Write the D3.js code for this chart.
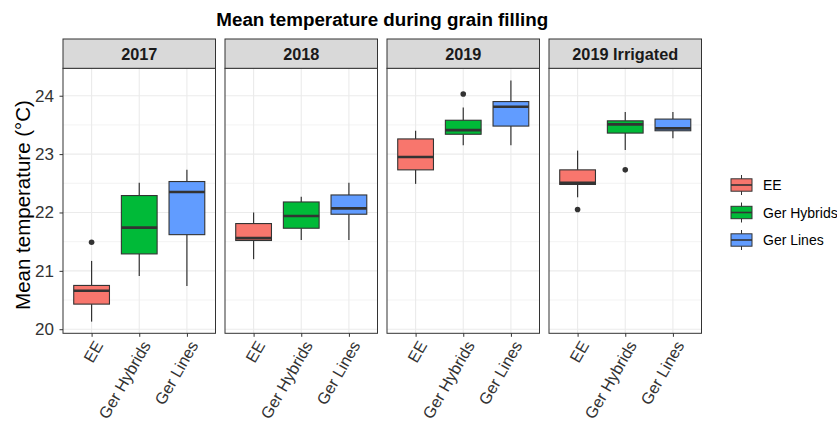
<!DOCTYPE html>
<html>
<head>
<meta charset="utf-8">
<script src="https://cdn.jsdelivr.net/npm/d3@7"></script>
<style>
  html, body { margin: 0; padding: 0; background: #fff; }
  svg { display: block; font-family: "Liberation Sans", Arial, sans-serif; }
</style>
</head>
<body>
<svg id="chart" width="837" height="424"></svg>
<script>
// Facets and groups
const years = ["2017", "2018", "2019", "2019 Irrigated"];
const groups = ["EE", "Ger Hybrids", "Ger Lines"];
const groupColors = ["#F8766D", "#00BA38", "#619CFF"];

// Box statistics per facet (rows) and group (columns), °C
const whiskerLow  = [[20.13, 20.91, 20.74], [21.20, 21.53, 21.53], [22.49, 23.15, 23.15], [22.26, 23.07, 23.27]];
const q1          = [[20.43, 21.29, 21.62], [21.52, 21.73, 21.97], [22.73, 23.34, 23.48], [22.48, 23.36, 23.40]];
const median      = [[20.66, 21.74, 22.35], [21.56, 21.94, 22.07], [22.95, 23.41, 23.81], [22.51, 23.51, 23.44]];
const q3          = [[20.75, 22.29, 22.53], [21.81, 22.18, 22.30], [23.26, 23.58, 23.90], [22.73, 23.57, 23.60]];
const whiskerHigh = [[21.17, 22.51, 22.73], [22.00, 22.27, 22.51], [23.40, 23.80, 24.26], [23.06, 23.72, 23.72]];
const outliers    = [[[21.49], [], []], [[], [], []], [[], [24.03], []], [[22.05], [22.73], []]];

const yTicks = [20, 21, 22, 23, 24];
const yMinor = [20.5, 21.5, 22.5, 23.5];

const titleText = "Mean temperature during grain filling";
const yTitle = "Mean temperature (°C)";

// Layout
const svg = d3.select("#chart");
const panelLeft = 63, panelW = 152.5, panelGap = 9.5;
const stripTop = 39, panelTop = 68.3, panelBottom = 333.3;
const ink = "#333333", gridCol = "#EBEBEB", tickText = "#333333";

svg.append("rect").attr("width", 837).attr("height", 424).attr("fill", "#fff");

const y = d3.scaleLinear().domain([19.93, 24.47]).range([panelBottom, panelTop]);

// Title
svg.append("text")
  .attr("x", panelLeft + (4 * panelW + 3 * panelGap) / 2)
  .attr("y", 26)
  .attr("text-anchor", "middle")
  .attr("font-size", 18.8).attr("font-weight", "bold").attr("fill", "#000")
  .text(titleText);

// Y axis title
svg.append("text")
  .attr("transform", `translate(30,205) rotate(-90)`)
  .attr("text-anchor", "middle")
  .attr("font-size", 20.5).attr("fill", "#000")
  .text(yTitle);

// Y axis (left of first panel)
const yAxis = svg.append("g")
  .attr("transform", `translate(${panelLeft},0)`)
  .call(d3.axisLeft(y).tickValues(yTicks).tickSize(3.5).tickPadding(5.5).tickFormat(d3.format("d")));
yAxis.select(".domain").remove();
yAxis.selectAll(".tick line").attr("stroke", ink).attr("stroke-width", 1);
yAxis.selectAll(".tick text").attr("font-size", 17).attr("fill", tickText)
  .attr("font-family", "Liberation Sans, Arial, sans-serif");

years.forEach((yr, pi) => {
  const x0 = panelLeft + pi * (panelW + panelGap);
  const x = d3.scalePoint().domain(groups).range([x0, x0 + panelW]).padding(0.6);
  const boxW = x.step() * 0.75;
  const g = svg.append("g");

  // Grid
  g.selectAll(".ymin").data(yMinor).join("line")
    .attr("x1", x0).attr("x2", x0 + panelW)
    .attr("y1", d => y(d)).attr("y2", d => y(d))
    .attr("stroke", gridCol).attr("stroke-width", 0.6);
  g.selectAll(".ymaj").data(yTicks).join("line")
    .attr("x1", x0).attr("x2", x0 + panelW)
    .attr("y1", d => y(d)).attr("y2", d => y(d))
    .attr("stroke", gridCol).attr("stroke-width", 1.1);
  g.selectAll(".xmaj").data(groups).join("line")
    .attr("x1", d => x(d)).attr("x2", d => x(d))
    .attr("y1", panelTop).attr("y2", panelBottom)
    .attr("stroke", gridCol).attr("stroke-width", 1.1);

  // Boxes
  groups.forEach((grp, gi) => {
    const cx = x(grp);
    g.append("line")
      .attr("x1", cx).attr("x2", cx)
      .attr("y1", y(whiskerHigh[pi][gi])).attr("y2", y(q3[pi][gi]))
      .attr("stroke", ink).attr("stroke-width", 1.2);
    g.append("line")
      .attr("x1", cx).attr("x2", cx)
      .attr("y1", y(q1[pi][gi])).attr("y2", y(whiskerLow[pi][gi]))
      .attr("stroke", ink).attr("stroke-width", 1.2);
    g.append("rect")
      .attr("x", cx - boxW / 2).attr("width", boxW)
      .attr("y", y(q3[pi][gi])).attr("height", y(q1[pi][gi]) - y(q3[pi][gi]))
      .attr("fill", groupColors[gi]).attr("stroke", ink).attr("stroke-width", 1.1);
    g.append("line")
      .attr("x1", cx - boxW / 2).attr("x2", cx + boxW / 2)
      .attr("y1", y(median[pi][gi])).attr("y2", y(median[pi][gi]))
      .attr("stroke", ink).attr("stroke-width", 2.6);
    g.selectAll(null).data(outliers[pi][gi]).join("circle")
      .attr("cx", cx).attr("cy", d => y(d)).attr("r", 2.8)
      .attr("fill", ink);
  });

  // Panel border
  g.append("rect")
    .attr("x", x0).attr("y", panelTop).attr("width", panelW).attr("height", panelBottom - panelTop)
    .attr("fill", "none").attr("stroke", ink).attr("stroke-width", 1);

  // Strip
  g.append("rect")
    .attr("x", x0).attr("y", stripTop).attr("width", panelW).attr("height", panelTop - stripTop)
    .attr("fill", "#D9D9D9").attr("stroke", ink).attr("stroke-width", 1);
  g.append("text")
    .attr("x", x0 + panelW / 2).attr("y", (stripTop + panelTop) / 2)
    .attr("dy", "0.36em")
    .attr("text-anchor", "middle")
    .attr("font-size", 16.3).attr("font-weight", "bold").attr("fill", "#1A1A1A")
    .text(yr);

  // Bottom axis
  const xAxis = g.append("g")
    .attr("transform", `translate(0,${panelBottom})`)
    .call(d3.axisBottom(x).tickSize(3.5).tickPadding(0));
  xAxis.select(".domain").remove();
  xAxis.selectAll(".tick line").attr("stroke", ink).attr("stroke-width", 1);
  xAxis.selectAll(".tick text")
    .attr("font-size", 16.3).attr("fill", tickText)
    .attr("font-family", "Liberation Sans, Arial, sans-serif")
    .attr("text-anchor", "end")
    .attr("y", 0).attr("dy", "0.71em")
    .attr("transform", "translate(1.5,6) rotate(-60)");
});

// Legend
const legend = svg.append("g");
const keyX = 731, keyW = 21, keyCenters = [185, 212.5, 240];
groups.forEach((grp, gi) => {
  const cy = keyCenters[gi];
  legend.append("line")
    .attr("x1", keyX + keyW / 2).attr("x2", keyX + keyW / 2)
    .attr("y1", cy - 10).attr("y2", cy + 10)
    .attr("stroke", ink).attr("stroke-width", 1);
  legend.append("rect")
    .attr("x", keyX).attr("y", cy - 6.2).attr("width", keyW).attr("height", 12.4)
    .attr("fill", groupColors[gi]).attr("stroke", ink).attr("stroke-width", 1);
  legend.append("line")
    .attr("x1", keyX).attr("x2", keyX + keyW)
    .attr("y1", cy).attr("y2", cy)
    .attr("stroke", ink).attr("stroke-width", 1.6);
  legend.append("text")
    .attr("x", 763).attr("y", cy).attr("dy", "0.36em")
    .attr("font-size", 14).attr("fill", "#000")
    .text(grp);
});
</script>
</body>
</html>
